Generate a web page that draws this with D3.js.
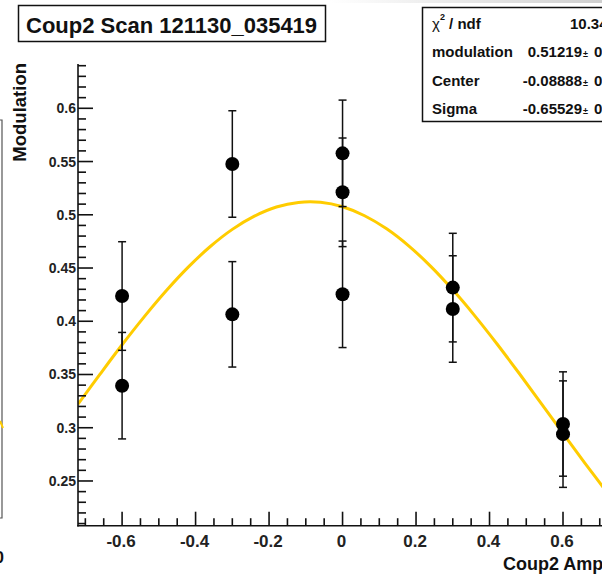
<!DOCTYPE html>
<html><head><meta charset="utf-8">
<script src="https://cdn.jsdelivr.net/npm/d3@7"></script>
<style>
body{margin:0;background:#fff}
svg{display:block}
text{font-family:"Liberation Sans",Arial,Helvetica,sans-serif;font-weight:bold}
</style>
</head><body>
<svg id="chart" width="602" height="574"></svg>
<script>
// ---- data ----
const pointX   = [-0.6, -0.6, -0.3, -0.3, 0.0, 0.0, 0.0, 0.3, 0.3, 0.6, 0.6];
const pointY   = [0.4237, 0.3395, 0.5477, 0.4065, 0.5577, 0.5211, 0.4253, 0.4316, 0.4115, 0.3035, 0.2940];
const pointErr = [0.051, 0.050, 0.050, 0.0495, 0.050, 0.051, 0.050, 0.051, 0.050, 0.049, 0.050];

const fitX = [-0.72,-0.66,-0.60,-0.54,-0.48,-0.42,-0.36,-0.30,-0.24,-0.18,-0.12,-0.06,0.00,0.06,0.12,0.18,0.24,0.30,0.36,0.42,0.48,0.54,0.60,0.66,0.72];
const fitY = [0.3221,0.3503,0.3779,0.4041,0.4286,0.4508,0.4702,0.4863,0.4987,0.5073,0.5116,0.5117,0.5075,0.4991,0.4868,0.4708,0.4516,0.4295,0.4051,0.3789,0.3514,0.3232,0.2947,0.2666,0.2391];

const xTicks = [-0.6, -0.4, -0.2, 0, 0.2, 0.4, 0.6];
const xTickLabels = ["-0.6", "-0.4", "-0.2", "0", "0.2", "0.4", "0.6"];
const yTicks = [0.25, 0.3, 0.35, 0.4, 0.45, 0.5, 0.55, 0.6];
const yTickLabels = ["0.25", "0.3", "0.35", "0.4", "0.45", "0.5", "0.55", "0.6"];

const titleText = "Coup2 Scan 121130_035419";
const xTitle = "Coup2 Amp";
const yTitle = "Modulation";

const statNames  = ["χ", "modulation", "Center", "Sigma"];
const statValues = ["10.34 / 9", "0.51219", "-0.08888", "-0.65529"];
const statErrors = ["", "0.02048", "0.07761", "0.10413"];

// ---- drawing ----
const svg = d3.select("#chart");
svg.append("rect").attr("width", 602).attr("height", 574).attr("fill", "#fff");

const x = d3.scaleLinear().domain([-0.72, 0.72]).range([78, 607.1]);
const y = d3.scaleLinear().domain([0.208, 0.6416]).range([525.7, 64]);
const ink = "#111";

// shadow strip at the top
const defs = svg.append("defs");
const g1 = defs.append("linearGradient").attr("id", "topfade");
g1.append("stop").attr("offset", "0%").attr("stop-color", "#fff");
g1.append("stop").attr("offset", "100%").attr("stop-color", "#cfcfcf");
svg.append("rect").attr("x", 330).attr("y", 0).attr("width", 272).attr("height", 3).attr("fill", "url(#topfade)");

// neighbouring pad fragments at left edge
svg.append("path").attr("d", "M0,120H2V518H0").attr("fill", "none").attr("stroke", "#555").attr("stroke-width", 1.2);
svg.append("line").attr("x1", 0).attr("y1", 421).attr("x2", 3).attr("y2", 428).attr("stroke", "#ffcc00").attr("stroke-width", 2);
svg.append("text").attr("x", 4).attr("y", 563).attr("text-anchor", "end").attr("font-size", 17).attr("fill", ink).text("0");

// clip for the frame
defs.append("clipPath").attr("id", "frame").append("rect")
  .attr("x", 78).attr("y", 64).attr("width", 530).attr("height", 461.7);

// fit curve
const line = d3.line().x((d, i) => x(fitX[i])).y(d => y(d)).curve(d3.curveCatmullRom);
svg.append("path").datum(fitY).attr("d", line).attr("clip-path", "url(#frame)")
  .attr("fill", "none").attr("stroke", "#ffcc00").attr("stroke-width", 3);

// error bars
const eb = svg.append("g").attr("stroke", ink).attr("stroke-width", 1.5);
pointX.forEach((px, i) => {
  const cx = x(px), yt = y(pointY[i] + pointErr[i]), yb = y(pointY[i] - pointErr[i]);
  eb.append("line").attr("x1", cx).attr("x2", cx).attr("y1", yt).attr("y2", yb);
  eb.append("line").attr("x1", cx - 4).attr("x2", cx + 4).attr("y1", yt).attr("y2", yt);
  eb.append("line").attr("x1", cx - 4).attr("x2", cx + 4).attr("y1", yb).attr("y2", yb);
});
// markers
svg.append("g").selectAll("circle").data(pointY).join("circle")
  .attr("cx", (d, i) => x(pointX[i])).attr("cy", d => y(d)).attr("r", 7).attr("fill", "#000");

// axes
const ax = svg.append("g").attr("stroke", ink).attr("stroke-width", 1.6);
ax.append("line").attr("x1", 78).attr("x2", 78).attr("y1", 64).attr("y2", 526.5);
ax.append("line").attr("x1", 77.2).attr("x2", 602).attr("y1", 525.7).attr("y2", 525.7);
// y ticks
for (let i = 21; i <= 64; i++) {
  const v = i / 100, major = i % 5 === 0;
  ax.append("line").attr("x1", 78).attr("x2", 78 + (major ? 15 : 8)).attr("y1", y(v)).attr("y2", y(v));
}
// x ticks
for (let i = -14; i <= 14; i++) {
  const v = i * 0.05, major = i % 4 === 0;
  ax.append("line").attr("x1", x(v)).attr("x2", x(v)).attr("y1", 525.7).attr("y2", 525.7 - (major ? 14 : 7.5));
}
svg.append("g").selectAll("text").data(yTicks).join("text")
  .attr("x", 76).attr("y", d => y(d) + 5).attr("text-anchor", "end")
  .attr("font-size", 14).attr("fill", "#222").text((d, i) => yTickLabels[i]);
svg.append("g").selectAll("text").data(xTicks).join("text")
  .attr("x", d => x(d) - 1).attr("y", 546.5).attr("text-anchor", "middle")
  .attr("font-size", 17).attr("fill", "#222").text((d, i) => xTickLabels[i]);

// axis titles
svg.append("text").attr("transform", "translate(26,63) rotate(-90)").attr("text-anchor", "end")
  .attr("font-size", 18.5).attr("fill", ink).text(yTitle);
svg.append("text").attr("x", 503).attr("y", 570).attr("font-size", 18).attr("fill", ink).text(xTitle);

// title box
svg.append("rect").attr("x", 18.5).attr("y", 5.5).attr("width", 307).attr("height", 36)
  .attr("fill", "#fff").attr("stroke", ink).attr("stroke-width", 1.5);
svg.append("text").attr("x", 26).attr("y", 33).attr("font-size", 22).attr("fill", ink).text(titleText);

// stats box
svg.append("rect").attr("x", 422.5).attr("y", 7.5).attr("width", 200).attr("height", 114)
  .attr("fill", "#fff").attr("stroke", ink).attr("stroke-width", 1.5);
const rowBase = [28.5, 57, 85.5, 114];
statNames.forEach((n, i) => {
  const t = svg.append("text").attr("x", 432).attr("y", rowBase[i]).attr("font-size", 15).attr("fill", ink);
  if (i === 0) {
    t.append("tspan").attr("font-weight", "normal").text(n);
    t.append("tspan").attr("font-size", 9).attr("dy", -9).text("2");
    t.append("tspan").attr("dy", 9).text(" / ndf");
  } else t.text(n);
});
svg.append("text").attr("x", 570).attr("y", rowBase[0]).attr("font-size", 15).attr("fill", ink).text(statValues[0]);
for (let i = 1; i < 4; i++) {
  svg.append("text").attr("x", 582).attr("y", rowBase[i]).attr("text-anchor", "end")
    .attr("font-size", 15).attr("fill", ink).text(statValues[i]);
  svg.append("text").attr("x", 583).attr("y", rowBase[i]).attr("font-size", 9).attr("fill", ink).text("±");
  svg.append("text").attr("x", 594).attr("y", rowBase[i]).attr("font-size", 15).attr("fill", ink).text(statErrors[i]);
}
</script>
</body></html>
